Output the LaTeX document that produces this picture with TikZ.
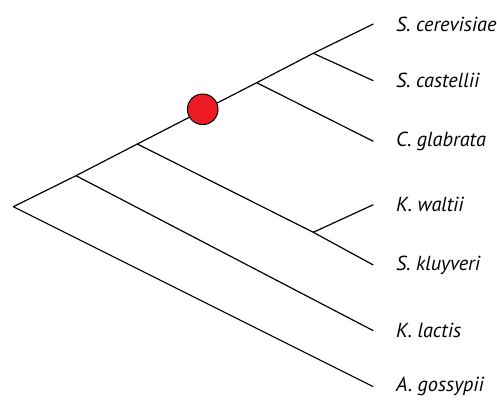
\documentclass[tikz,border=0pt]{standalone}
\usepackage{fontspec}
\setmainfont{PT Sans}
\definecolor{nodered}{RGB}{237,28,36}
\tikzset{
  branch/.style={line width=1.2pt, black},
  taxon/.style={anchor=west, font=\fontsize{20.3}{22}\selectfont\itshape, inner sep=0pt},
}
\begin{document}
\begin{tikzpicture}[x=1pt, y=-1pt]
  \useasboundingbox (0,0) rectangle (497,401);
  % internal nodes
  \coordinate (root) at (13.3,206.7);
  \coordinate (n1) at (76,175.7);
  \coordinate (n2) at (137.3,144);
  \coordinate (n3) at (256.7,82.7);
  \coordinate (n4) at (313.3,53.3);
  \coordinate (n5) at (313.3,232.3);
  % tips
  \coordinate (scer) at (373.3,24);
  \coordinate (scas) at (373.3,80.7);
  \coordinate (cgla) at (373.3,141.3);
  \coordinate (kwal) at (373.3,204.7);
  \coordinate (sklu) at (373.3,265);
  \coordinate (klac) at (373.3,330.7);
  \coordinate (agos) at (373.3,386.7);
  % branches
  \draw[branch] (root) -- (n1) -- (n2) -- (n3) -- (n4) -- (scer);
  \draw[branch] (n4) -- (scas);
  \draw[branch] (n3) -- (cgla);
  \draw[branch] (n2) -- (n5) -- (sklu);
  \draw[branch] (n5) -- (kwal);
  \draw[branch] (n1) -- (klac);
  \draw[branch] (root) -- (agos);
  % event marker
  \filldraw[fill=nodered, draw=black, line width=1pt] (202.7,109.3) circle (15.3);
  % labels
  \node[taxon] (lscer) at ([xshift=22.7pt]scer) {S. cerevisiae};
  \node[taxon] (lscas) at ([xshift=22.7pt]scas) {S. castellii};
  \node[taxon] (lcgla) at ([xshift=22.7pt]cgla) {C. glabrata};
  \node[taxon] (lkwal) at ([xshift=22.7pt]kwal) {K. waltii};
  \node[taxon] (lsklu) at ([xshift=22.7pt]sklu) {S. kluyveri};
  \node[taxon] (lklac) at ([xshift=22.7pt]klac) {K. lactis};
  \node[taxon] (lagos) at ([xshift=22.7pt]agos) {A. gossypii};
\end{tikzpicture}
\end{document}
